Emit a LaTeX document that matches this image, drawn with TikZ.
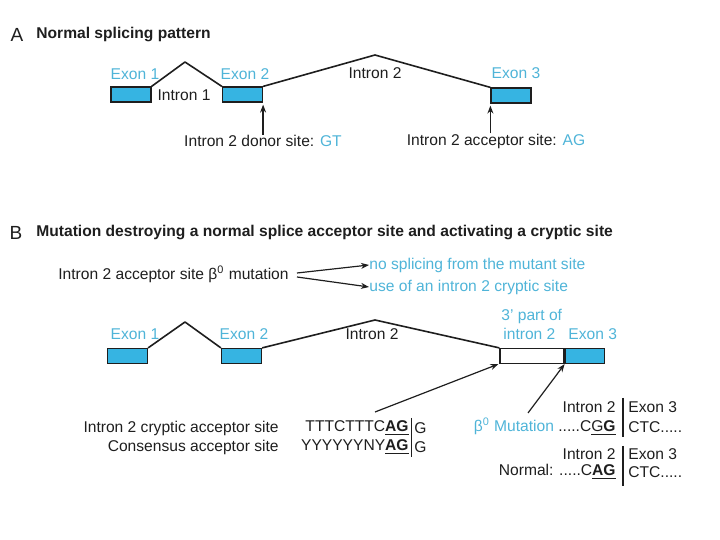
\documentclass[tikz,border=0pt]{standalone}
\usepackage{fontspec}
\setmainfont{Liberation Sans}
\usetikzlibrary{arrows.meta,positioning}
\definecolor{exonblue}{HTML}{36B4E2}
\definecolor{labelblue}{HTML}{4FB4D8}
\definecolor{ink}{HTML}{1E1E1E}
\tikzset{
  exonbox/.style={
    draw=ink,
    fill=exonblue,
    line width=0.6pt,
    minimum width=20pt,
    minimum height=7.5pt,
    inner sep=0pt
  },
  introbox/.style={
    exonbox,
    fill=white,
    minimum width=32pt
  },
  lbl/.style={inner sep=0pt,text=ink,font=\fontsize{7.8}{9}\selectfont},
  exonlbl/.style={lbl,text=labelblue},
  paneltitle/.style={lbl,font=\fontsize{7.8}{9}\selectfont\bfseries},
  paneltag/.style={lbl,font=\fontsize{9.5}{10}\selectfont},
  intronline/.style={draw=ink,line width=0.8pt,line join=round},
  sitearrow/.style={-{Stealth[length=4pt,width=3pt]},draw=ink,line width=0.6pt},
  seqbar/.style={draw=ink,line width=0.7pt}
}

\begin{document}
\begin{tikzpicture}[x=0.5pt,y=-0.5pt]
  \useasboundingbox (0,0) rectangle (720,540);

  % panel A
  \node[paneltag] (tagA) at (17,35) {A};
  \node[paneltitle, anchor=west] (titleA) at (36,35) {Normal splicing pattern};

  \node[exonbox] (exA1) at (131,94.5) {};
  \node[exonbox] (exA2) at (242.5,94.5) {};
  \node[exonbox] (exA3) at (511,95.5) {};
  \coordinate (peakA1) at (185,62);
  \coordinate (peakA2) at (375,55);
  \draw[intronline] (exA1.north east) -- (peakA1) -- (exA2.north west);
  \draw[intronline] (exA2.north east) -- (peakA2) -- (exA3.north west);

  \node[exonlbl] (lexA1) at (135,74) {Exon 1};
  \node[exonlbl] (lexA2) at (245,74) {Exon 2};
  \node[exonlbl] (lexA3) at (516,73) {Exon 3};
  \node[lbl] (linA1) at (184,95) {Intron 1};
  \node[lbl] (linA2) at (375,73) {Intron 2};

  \node[lbl] (donor) at (263,141) {Intron 2 donor site: \textcolor{labelblue}{GT}};
  \node[lbl] (accept) at (496,141) {Intron 2 acceptor site: \textcolor{labelblue}{AG}};
  \draw[sitearrow] (donor.north -| exA2.south east) -- ([yshift=-1pt]exA2.south east);
  \draw[sitearrow] (accept.north -| exA3.south west) -- ([yshift=-1pt]exA3.south west);

  % panel B
  \node[paneltag] (tagB) at (16,233) {B};
  \node[paneltitle, anchor=west] (titleB) at (36,233) {Mutation destroying a normal splice acceptor site and activating a cryptic site};

  \node[lbl, anchor=east] (mutB) at (289,274) {Intron 2 acceptor site β\textsuperscript{0} mutation};
  \node[exonlbl, anchor=west] (nosplice) at (369,265) {no splicing from the mutant site};
  \node[exonlbl, anchor=west] (usecrypt) at (369,287) {use of an intron 2 cryptic site};
  \draw[sitearrow] ([xshift=4pt,yshift=0.5pt]mutB.east) -- (nosplice.west);
  \draw[sitearrow] ([xshift=4pt,yshift=-1.5pt]mutB.east) -- (usecrypt.west);

  \node[exonbox] (exB1) at (127.5,356) {};
  \node[exonbox] (exB2) at (241.5,356) {};
  \node[introbox] (crypt) at (532,356) {};
  \node[exonbox, minimum width=19.5pt, right=0pt of crypt] (exB3) {};
  \coordinate (peakB1) at (185,322);
  \coordinate (peakB2) at (375,320);
  \draw[intronline] (exB1.north east) -- (peakB1) -- (exB2.north west);
  \draw[intronline] (exB2.north east) -- (peakB2) -- (crypt.north west);

  \node[exonlbl] (lexB1) at (135,334) {Exon 1};
  \node[exonlbl] (lexB2) at (244,334) {Exon 2};
  \node[lbl] (linB2) at (372,334) {Intron 2};
  \node[exonlbl, anchor=west] (part3) at (501,316) {3' part of};
  \node[exonlbl, anchor=west] (part3b) at (503,334) {intron 2};
  \node[exonlbl, anchor=west] (lexB3) at (568,334) {Exon 3};

  % cryptic site sequences
  \node[lbl, anchor=east] (crypname) at (279,428) {Intron 2 cryptic acceptor site};
  \node[lbl, anchor=east] (consname) at (279,447) {Consensus acceptor site};
  \node[lbl, anchor=east] (crypseq) at (409,428) {TTTCTTTC\underline{\textbf{AG}}};
  \node[lbl, anchor=west] (crypg) at (414,428) {G};
  \node[lbl, anchor=east] (consseq) at (409,447) {YYYYYYNY\underline{\textbf{AG}}};
  \node[lbl, anchor=west] (consg) at (414,447) {G};
  \draw[seqbar] (411.5,418) -- (411.5,457);
  \coordinate (crypfoot) at (375,412);
  \draw[sitearrow] (crypfoot) -- ([xshift=-0.5pt]crypt.south west);

  % mutation vs normal
  \node[lbl, anchor=east] (mutin) at (616,407) {Intron 2};
  \node[lbl, anchor=west] (mutex) at (628,407) {Exon 3};
  \node[lbl, anchor=east] (mutseq) at (616,427) {\textcolor{labelblue}{β\textsuperscript{0}\ Mutation} .....C\underline{G\textbf{G}}};
  \node[lbl, anchor=west] (mutctc) at (628,427) {CTC.....};
  \draw[seqbar] (623,398) -- (623,437);
  \coordinate (mutfoot) at (528,413);
  \draw[sitearrow] (mutfoot) -- (crypt.south east);

  \node[lbl, anchor=east] (normin) at (616,454) {Intron 2};
  \node[lbl, anchor=west] (normex) at (628,454) {Exon 3};
  \node[lbl, anchor=east] (normseq) at (616,472) {Normal: .....C\underline{\textbf{AG}}};
  \node[lbl, anchor=west] (normctc) at (628,472) {CTC.....};
  \draw[seqbar] (623,446) -- (623,486);
\end{tikzpicture}
\end{document}
